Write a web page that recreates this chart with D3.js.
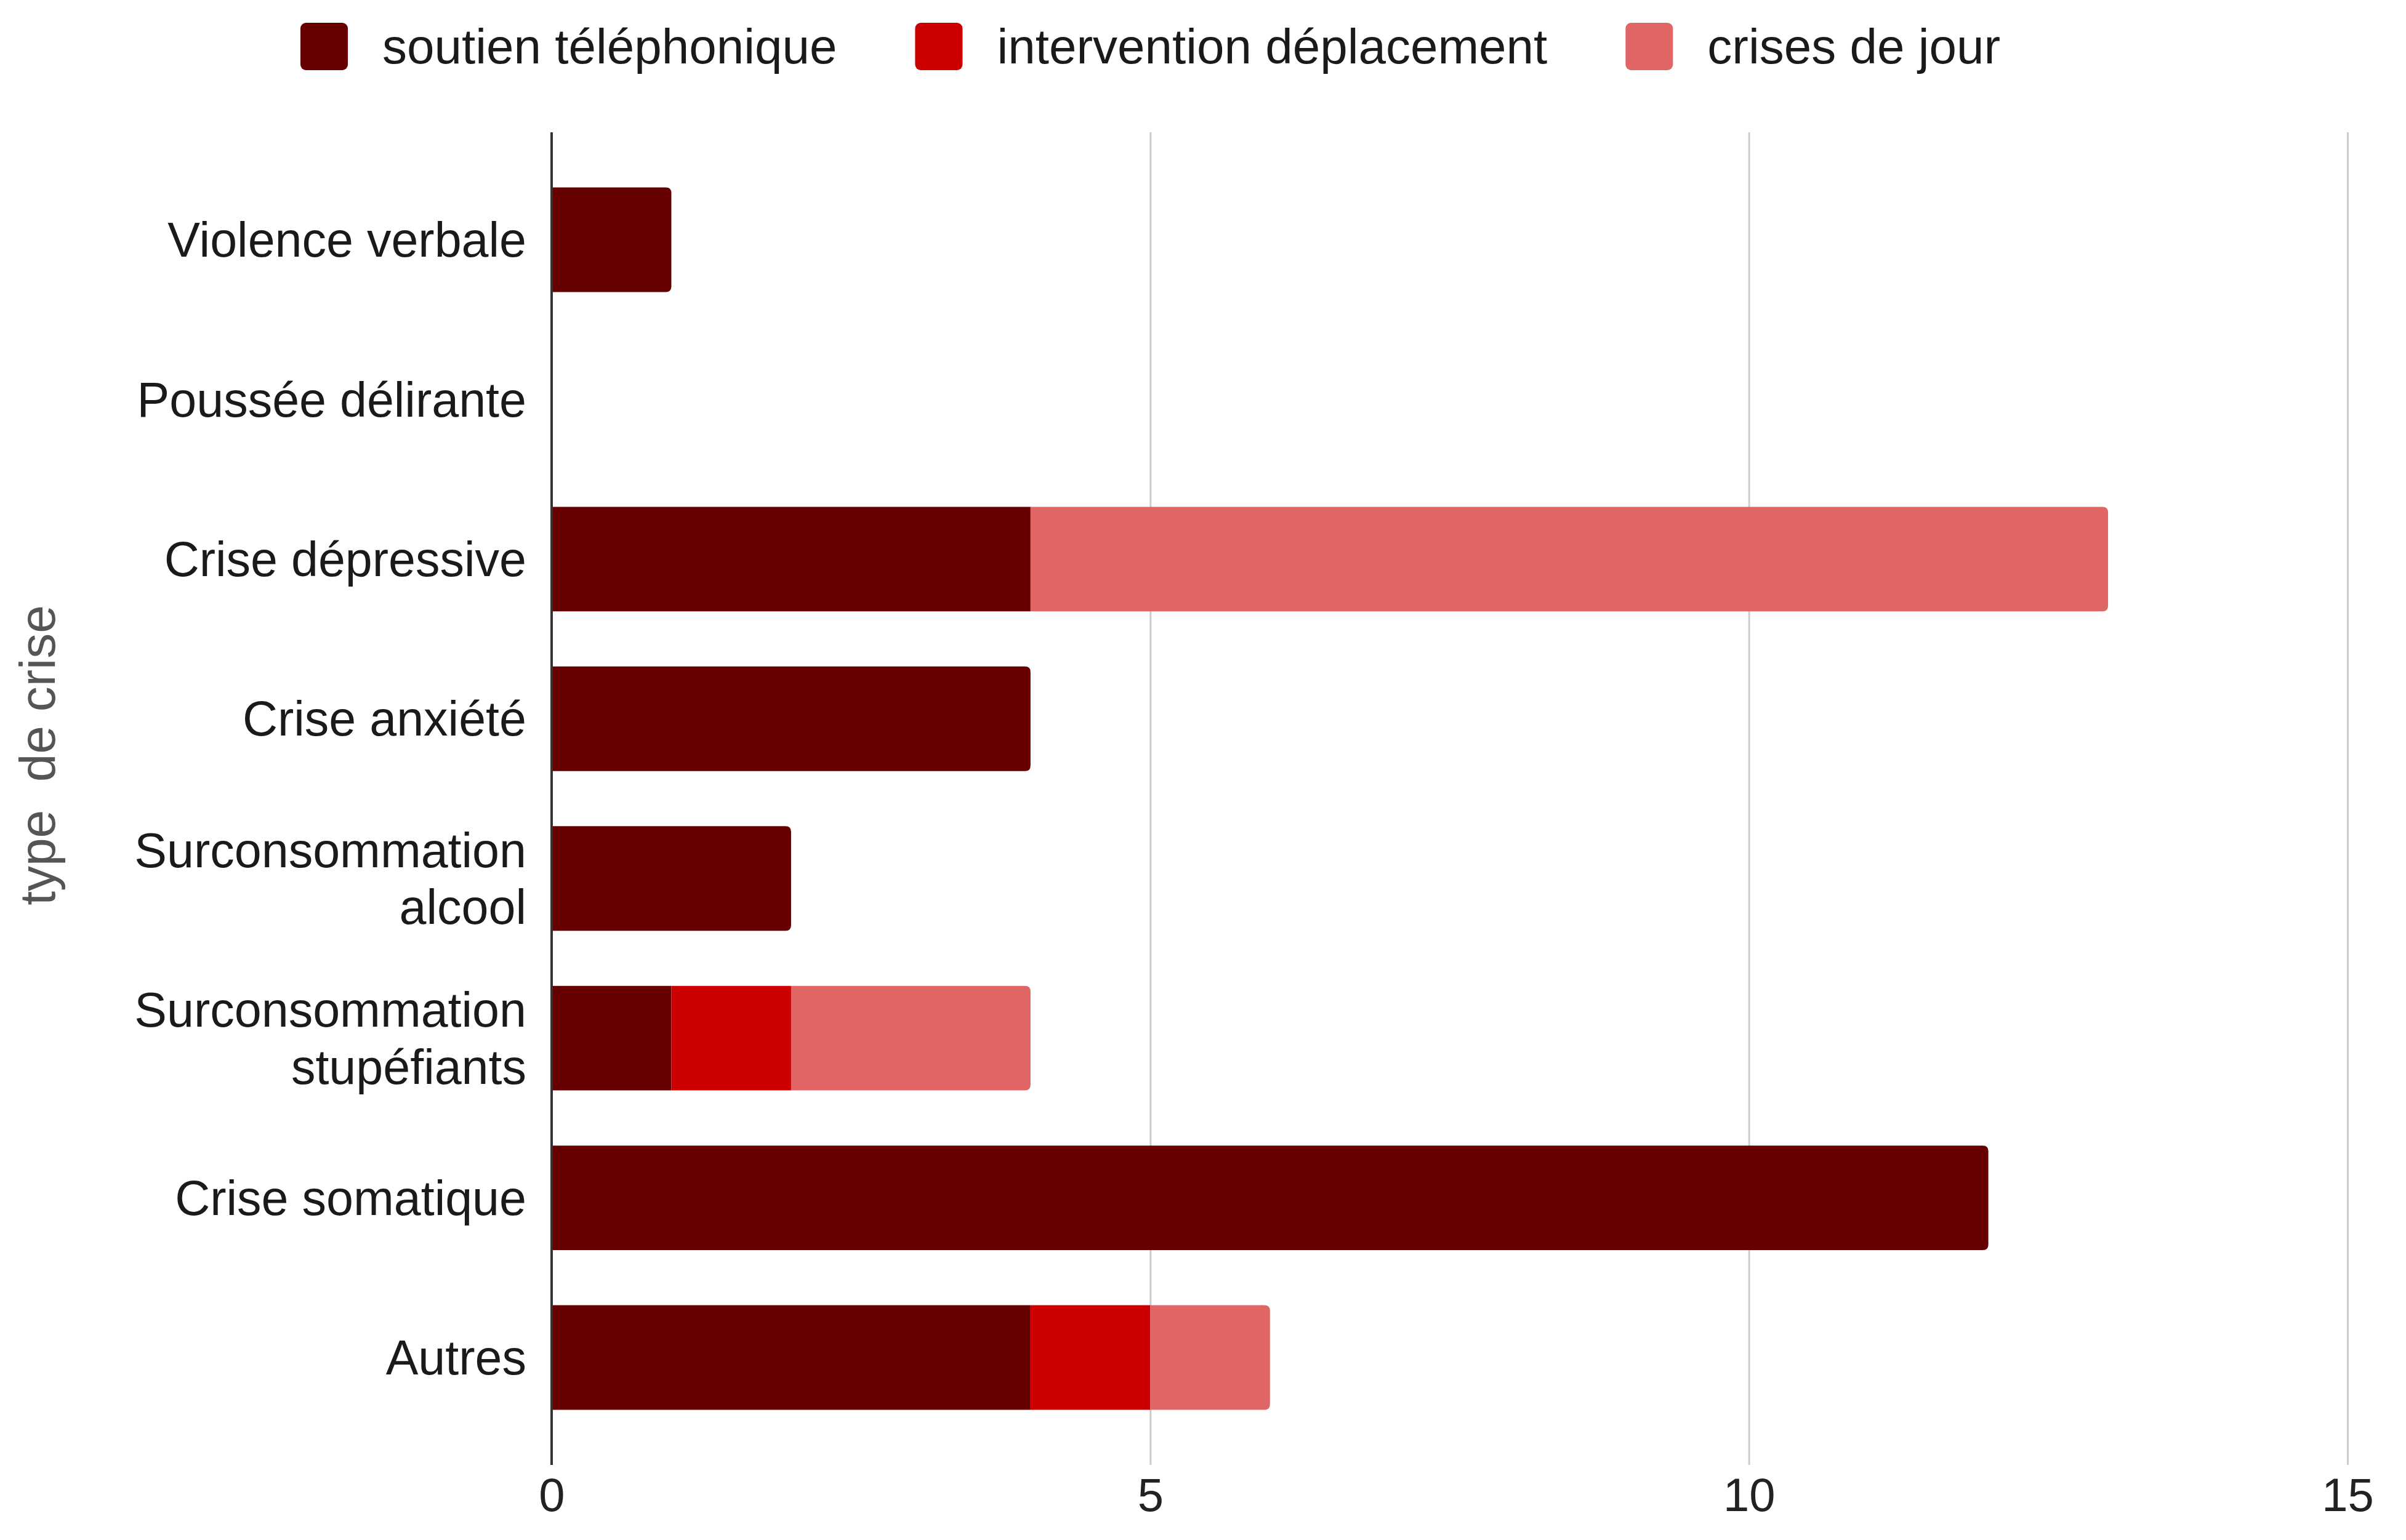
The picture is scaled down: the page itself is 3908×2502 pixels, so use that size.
<!DOCTYPE html>
<html>
<head>
<meta charset="utf-8">
<script src="https://cdn.jsdelivr.net/npm/d3@7"></script>
<style>
  body { margin: 0; background: #fff; }
  svg { display: block; }
</style>
</head>
<body>
<svg id="stacked-bar-chart"></svg>
<script>
// data
let categories = [
  ["Violence verbale"],
  ["Poussée délirante"],
  ["Crise dépressive"],
  ["Crise anxiété"],
  ["Surconsommation", "alcool"],
  ["Surconsommation", "stupéfiants"],
  ["Crise somatique"],
  ["Autres"]
]
let seriesNames = ["soutien téléphonique", "intervention déplacement", "crises de jour"]
let soutien      = [1, 0, 4, 4, 2, 1, 12, 4]
let intervention = [0, 0, 0, 0, 0, 1, 0, 1]
let crisesJour   = [0, 0, 9, 0, 0, 2, 0, 1]
let xTicks = [0, 5, 10, 15]
let axisTitle = "type  de crise"

let colors = ["#660000", "#cc0000", "#e06666"]

let width = 3908
let height = 2502
let font = "'Liberation Sans', Arial, sans-serif"

let svg = d3.select("#stacked-bar-chart")
    .attr("width", width)
    .attr("height", height)

let keys = categories.map(d => d.join(" "))
let rows = keys.map((k, i) => ({ key: k, lines: categories[i], s0: soutien[i], s1: intervention[i], s2: crisesJour[i] }))

let x = d3.scaleLinear()
    .domain([0, 15])
    .range([896, 3813])

let y = d3.scaleBand()
    .domain(keys)
    .range([215, 2380])
    .padding(0.345)

// gridlines + tick labels
let xAxisSettings = d3.axisBottom(x)
    .tickValues(xTicks)
    .tickSize(-(2380 - 215))
    .tickPadding(60)
    .tickFormat(d3.format("d"))

let xAxisTicks = svg.append("g")
    .attr("class", "x axis")
    .attr("transform", "translate(0, 2380)")
    .call(xAxisSettings)

xAxisTicks.select(".domain").remove()
xAxisTicks.selectAll("line")
    .style("stroke", "#cccccc")
    .style("stroke-width", "3px")
xAxisTicks.selectAll("text")
    .style("font-family", font)
    .style("font-size", "76px")
    .style("fill", "#222222")
    .attr("dy", "0.2em")

// stacked bars
let stack = d3.stack().keys(["s0", "s1", "s2"])
let layers = stack(rows)

function roundedRight(x0, x1, y0, h, r) {
  r = Math.min(r, (x1 - x0) / 2)
  return `M${x0},${y0}H${x1 - r}Q${x1},${y0} ${x1},${y0 + r}V${y0 + h - r}Q${x1},${y0 + h} ${x1 - r},${y0 + h}H${x0}Z`
}

function lastLayer(row) {
  let last = -1
  ;["s0", "s1", "s2"].forEach((k, i) => { if (row[k] > 0) last = i })
  return last
}

layers.forEach((layer, li) => {
  svg.append("g")
    .selectAll("path")
    .data(layer.filter(d => d[1] > d[0]))
    .join("path")
    .attr("d", d => {
      let x0 = x(d[0]), x1 = x(d[1])
      let r = lastLayer(d.data) == li ? 9 : 0
      return roundedRight(x0, x1, y(d.data.key), y.bandwidth(), r)
    })
    .style("fill", colors[li])
})

// baseline at zero
svg.append("line")
    .attr("x1", x(0))
    .attr("x2", x(0))
    .attr("y1", 215)
    .attr("y2", 2380)
    .style("stroke", "#333333")
    .style("stroke-width", "4px")

// category labels
let labels = svg.append("g")
    .selectAll("text")
    .data(rows)
    .join("text")
    .attr("x", x(0) - 41)
    .attr("y", d => y(d.key) + y.bandwidth() / 2)
    .attr("text-anchor", "end")
    .style("font-family", font)
    .style("font-size", "79px")
    .style("fill", "#1a1a1a")

labels.selectAll("tspan")
    .data(d => d.lines.map((t, i) => ({ t, i, n: d.lines.length })))
    .join("tspan")
    .attr("x", x(0) - 41)
    .attr("dy", d => d.i == 0 ? (0.35 - (d.n - 1) * 0.585) + "em" : "1.17em")
    .text(d => d.t)

// axis title
svg.append("text")
    .attr("transform", "translate(60, 1227) rotate(-90)")
    .attr("text-anchor", "middle")
    .attr("dy", "0.35em")
    .style("white-space", "pre")
    .style("font-family", font)
    .style("font-size", "82px")
    .style("fill", "#555555")
    .text(axisTitle)

// legend
let legend = svg.append("g").attr("transform", "translate(488, 75)")
let lx = 0
seriesNames.forEach((name, i) => {
  legend.append("rect")
    .attr("x", lx)
    .attr("y", -38)
    .attr("width", 77)
    .attr("height", 77)
    .attr("rx", 9)
    .style("fill", colors[i])
  let t = legend.append("text")
    .attr("x", lx + 133)
    .attr("dy", "0.35em")
    .style("font-family", font)
    .style("font-size", "80px")
    .style("fill", "#1a1a1a")
    .text(name)
  lx += 133 + t.node().getComputedTextLength() + 127
})
</script>
</body>
</html>
